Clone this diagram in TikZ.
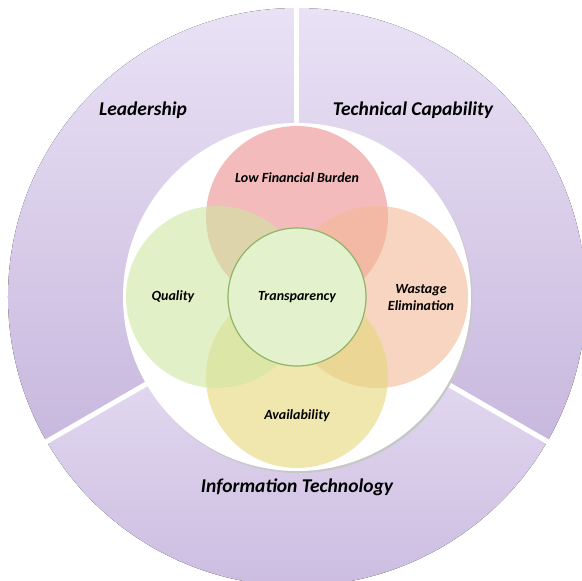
\documentclass[tikz,border=0pt]{standalone}
\usepackage{fontspec}
\setmainfont{Carlito}
\usepackage{tikz}
\usetikzlibrary{shapes,positioning}
\newcommand{\outerr}{289}
\newcommand{\innerr}{174}
\newcommand{\petalr}{91}
\newcommand{\petalo}{80}
\definecolor{lavtop}{HTML}{E9E2F5}
\definecolor{lavbot}{HTML}{C8B8DE}
\definecolor{burdenc}{RGB}{235,143,143}
\definecolor{qualityc}{RGB}{207,230,163}
\definecolor{wastagec}{RGB}{243,185,150}
\definecolor{availc}{RGB}{230,215,123}
\definecolor{transc}{HTML}{E3F2CD}
\definecolor{transe}{HTML}{8FB46A}

\begin{document}
\begin{tikzpicture}[x=1pt,y=1pt]
    \tikzset{
        sector/.style = {top color=lavtop, bottom color=lavbot},
        petal/.style = {circle, minimum size=2*\petalr pt, inner sep=0pt, fill opacity=0.6},
        biglbl/.style = {font=\fontsize{19.5}{22}\selectfont\bfseries\itshape},
        smalllbl/.style = {font=\fontsize{14}{17}\selectfont\bfseries\itshape, align=center}
    }
    \useasboundingbox (-297,-284) rectangle (285,297);
    %\draw[help lines] (-297,-284) grid (285,297);
    % outer ring
    \fill[sector] (0,0) -- (90:\outerr) arc (90:210:\outerr) -- cycle;
    \fill[sector] (0,0) -- (210:\outerr) arc (210:330:\outerr) -- cycle;
    \fill[sector] (0,0) -- (330:\outerr) arc (330:450:\outerr) -- cycle;
    \foreach \a in {90,210,330}
        \draw[white, line width=5pt] (0,0) -- (\a:\outerr+5);
    % inner disc
    \fill[black!22] (1.5,-2) circle (\innerr);
    \fill[white] (0,0) circle (\innerr);
    \node[petal, fill=burdenc] (burden) at (90:\petalo) {};
    \node[petal, fill=wastagec] (wastage) at (0:\petalo) {};
    \node[petal, fill=availc] (avail) at (270:\petalo) {};
    \node[petal, fill=qualityc] (quality) at (180:\petalo) {};
    \node[circle, minimum size=138pt, inner sep=0pt, fill=transc, draw=transe, line width=1.2pt] (trans) at (0,0) {};
    % labels
    \node[biglbl] (leader) at (-154,187) {Leadership};
    \node[biglbl] (techcap) at (116,187) {Technical Capability};
    \node[biglbl] (infotech) at (0,-190) {Information Technology};
    \node[smalllbl] (burdenlbl) at (0,119) {Low Financial Burden};
    \node[smalllbl] (qualitylbl) at (-124,0) {Quality};
    \node[smalllbl] (translbl) at (trans) {Transparency};
    \node[smalllbl] (wastagelbl) at (124,-1) {Wastage\\Elimination};
    \node[smalllbl] (availlbl) at (0,-119) {Availability};
\end{tikzpicture}
\end{document}
